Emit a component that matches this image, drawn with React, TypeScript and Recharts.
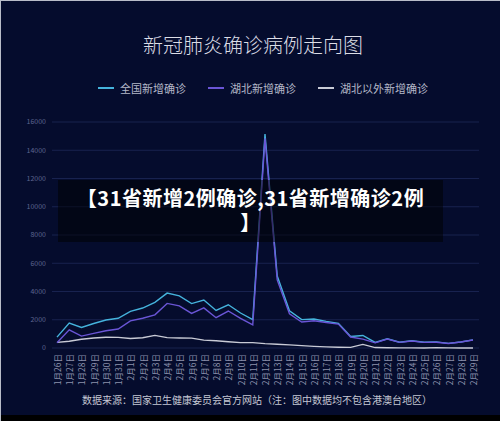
import React from 'react';
import { LineChart, Line, XAxis, YAxis, CartesianGrid } from 'recharts';

const days = [
  '1月26日', '1月27日', '1月28日', '1月29日', '1月30日', '1月31日',
  '2月1日', '2月2日', '2月3日', '2月4日', '2月5日', '2月6日', '2月7日', '2月8日', '2月9日', '2月10日',
  '2月11日', '2月12日', '2月13日', '2月14日', '2月15日', '2月16日', '2月17日', '2月18日', '2月19日', '2月20日',
  '2月21日', '2月22日', '2月23日', '2月24日', '2月25日', '2月26日', '2月27日', '2月28日', '2月29日',
];

const national = [
  769, 1771, 1459, 1737, 1982, 2102, 2590, 2829, 3235, 3887, 3694, 3143, 3399, 2656, 3062, 2478,
  2015, 15152, 5090, 2641, 2009, 2048, 1886, 1749, 820, 889, 397, 648, 409, 508, 406, 433, 327, 427, 573,
];
const hubei = [
  371, 1291, 840, 1032, 1220, 1347, 1921, 2103, 2345, 3156, 2987, 2447, 2841, 2147, 2618, 2097,
  1638, 14840, 4823, 2420, 1843, 1933, 1807, 1693, 775, 631, 366, 630, 398, 499, 401, 409, 318, 423, 570,
];
const outside = [
  398, 480, 619, 705, 762, 755, 669, 726, 890, 731, 707, 696, 558, 509, 444, 381,
  377, 312, 267, 221, 166, 115, 79, 56, 45, 258, 31, 18, 11, 9, 5, 24, 9, 4, 3,
];
const yTicks = [0, 2000, 4000, 6000, 8000, 10000, 12000, 14000, 16000];

const seriesNames = ['全国新增确诊', '湖北新增确诊', '湖北以外新增确诊'];
const seriesColors = ['#45b3dc', '#6a55d6', '#c9cbd6'];

const data = days.map((d, i) => ({
  day: d,
  national: national[i],
  hubei: hubei[i],
  outside: outside[i],
}));

const font = '"Noto Sans CJK SC", "Noto Sans", sans-serif';

const DayTick = (props: any) => {
  const { x, y, payload } = props;
  const ty = y + 4;
  return (
    <text
      x={x}
      y={ty}
      transform={`rotate(-90, ${x}, ${ty})`}
      textAnchor="end"
      dominantBaseline="central"
      fontSize={8.5}
      fill="#8b91ab"
      fontFamily={font}
    >
      {payload.value}
    </text>
  );
};

export default function App() {
  return (
    <div
      style={{
        position: 'relative',
        width: 500,
        height: 421,
        background: '#050c2d',
        fontFamily: font,
        overflow: 'hidden',
        boxSizing: 'border-box',
        borderLeft: '1px solid #b9bdc9',
        borderTop: '1px solid #b9bdc9',
      }}
    >
      <style>{'body{margin:0}'}</style>
      <div
        style={{
          position: 'absolute', top: 31, left: 0, width: 504, textAlign: 'center',
          fontSize: 20, color: '#dcdde6', fontWeight: 300, lineHeight: '26px',
        }}
      >
        新冠肺炎确诊病例走向图
      </div>
      <div style={{ position: 'absolute', top: 79, left: 97, display: 'flex', alignItems: 'center', fontSize: 11, color: '#b4b8c8', lineHeight: '16px' }}>
        {seriesNames.map((n, i) => (
          <div key={n} style={{ display: 'flex', alignItems: 'center', marginRight: 22 }}>
            <span style={{ display: 'inline-block', width: 16, height: 2, background: seriesColors[i], marginRight: 6 }} />
            <span>{n}</span>
          </div>
        ))}
      </div>
      <div style={{ position: 'absolute', top: 0, left: -1 }}>
        <LineChart width={500} height={421} data={data} margin={{ top: 121, right: 21, bottom: 34, left: 0 }}>
          <CartesianGrid vertical={false} stroke="#18224f" strokeWidth={1} />
          <XAxis
            dataKey="day"
            interval={0}
            height={40}
            axisLine={false}
            tickLine={false}
            tickSize={0}
            padding={{ left: 5, right: 6 }}
            tick={<DayTick />}
          />
          <YAxis
            width={52}
            domain={[0, 16000]}
            ticks={yTicks}
            axisLine={false}
            tickLine={false}
            tickSize={4}
            tickMargin={2}
            tick={{ fontSize: 7, fill: '#5d6590', fontFamily: font }}
          />
          <Line type="linear" dataKey="outside" stroke={seriesColors[2]} strokeWidth={1.4} dot={false} isAnimationActive={false} />
          <Line type="linear" dataKey="national" stroke={seriesColors[0]} strokeWidth={1.4} dot={false} isAnimationActive={false} />
          <Line type="linear" dataKey="hubei" stroke={seriesColors[1]} strokeWidth={1.4} dot={false} isAnimationActive={false} />
        </LineChart>
      </div>
      <div
        style={{
          position: 'absolute', top: 390, left: 0, width: 512, textAlign: 'center',
          fontSize: 10, color: '#c4c7d3', lineHeight: '18px',
        }}
      >
        数据来源：国家卫生健康委员会官方网站（注：图中数据均不包含港澳台地区）
      </div>
      <div
        style={{
          position: 'absolute', top: 179, left: 57, width: 385, height: 62,
          background: 'rgba(0,0,0,0.5)', color: '#ffffff', fontWeight: 700, fontSize: 20,
          textAlign: 'center', lineHeight: '24px', paddingTop: 6, boxSizing: 'border-box',
          letterSpacing: 0.5,
        }}
      >
        <div>【31省新增2例确诊,31省新增确诊2例</div>
        <div>】</div>
      </div>
      <div style={{ position: 'absolute', left: 0, bottom: 0, width: 500, height: 6, background: '#000' }} />
    </div>
  );
}
